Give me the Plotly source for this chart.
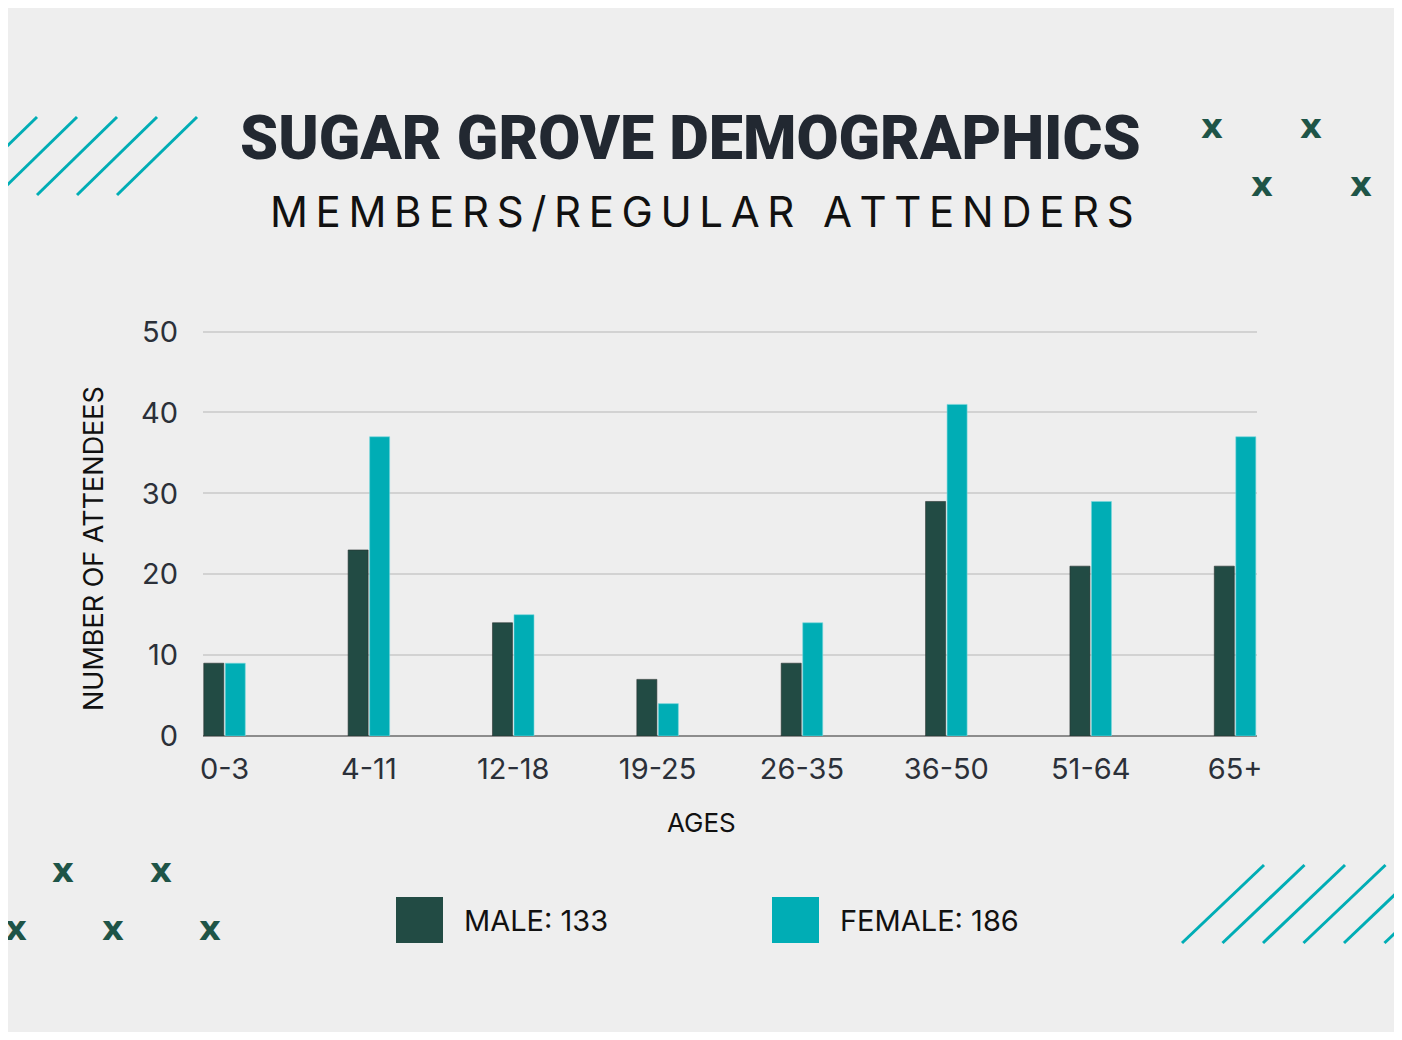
import plotly.graph_objects as go

# ---------------- data ----------------
ages = ["0-3", "4-11", "12-18", "19-25", "26-35", "36-50", "51-64", "65+"]
male = [9, 23, 14, 7, 9, 29, 21, 21]
female = [9, 37, 15, 4, 14, 41, 29, 37]
y_ticks = [0, 10, 20, 30, 40, 50]
title_text = "SUGAR GROVE DEMOGRAPHICS"
subtitle_text = "MEMBERS/REGULAR ATTENDERS"
x_title = "AGES"
y_title = "NUMBER OF ATTENDEES"
series_names = ["MALE", "FEMALE"]

# ---------------- style ----------------
MALE_C = "#224b44"
FEMALE_C = "#00adb5"
BG = "#eeeeee"
TEAL_LINE = "#00adb5"
X_C = "#1e5447"
TXT = "#2b3039"

W, H = 1386, 1024


def px(x):
    return x / W


def py(y):
    return 1 - y / H


fig = go.Figure()
fig.add_trace(go.Bar(x=ages, y=male, name=series_names[0],
                     marker=dict(color=MALE_C, line=dict(color="rgba(40,50,48,0.6)", width=1))))
fig.add_trace(go.Bar(x=ages, y=female, name=series_names[1],
                     marker=dict(color=FEMALE_C, line=dict(color="rgba(120,215,220,0.6)", width=1))))

# spaced subtitle (letter spacing emulation)
words = subtitle_text.split(" ")
sub_spaced = "\u2002\u2009".join("\u2009".join(list(w)) for w in words)

annotations = [
    dict(text=title_text, x=px(682), y=py(130), xref="paper", yref="paper",
         showarrow=False, xanchor="center", yanchor="middle",
         font=dict(family="Roboto, Inter, sans-serif", size=61, weight=900, color="#222831")),
    dict(text=sub_spaced, x=px(694), y=py(203), xref="paper", yref="paper",
         showarrow=False, xanchor="center", yanchor="middle",
         font=dict(family="Inter, Roboto, sans-serif", size=42, color="#111111")),
    dict(text=x_title, x=px(693), y=py(814), xref="paper", yref="paper",
         showarrow=False, xanchor="center", yanchor="middle",
         font=dict(family="Inter, Roboto, sans-serif", size=26, color="#111111")),
    dict(text=y_title, x=px(85), y=py(541), xref="paper", yref="paper", textangle=-90,
         showarrow=False, xanchor="center", yanchor="middle",
         font=dict(family="Inter, Roboto, sans-serif", size=27, color="#111111")),
]

# legend (custom)
legend_items = [
    (388, f"{series_names[0]}: {sum(male)}", MALE_C),
    (764, f"{series_names[1]}: {sum(female)}", FEMALE_C),
]
shapes = []
for lx, label, col in legend_items:
    shapes.append(dict(type="rect", xref="paper", yref="paper",
                       x0=px(lx), x1=px(lx + 47), y0=py(889), y1=py(935),
                       fillcolor=col, line=dict(width=0)))
    annotations.append(dict(text=label, x=px(lx + 66), y=py(912), xref="paper", yref="paper",
                            showarrow=False, xanchor="left", yanchor="middle",
                            font=dict(family="Inter, Roboto, sans-serif", size=29, color="#111111")))

# decorative diagonal lines
for i in range(5):
    shapes.append(dict(type="line", xref="paper", yref="paper",
                       x0=px(29 + 40 * i), y0=py(109), x1=px(-51 + 40 * i), y1=py(187),
                       line=dict(color=TEAL_LINE, width=3)))
for i in range(6):
    shapes.append(dict(type="line", xref="paper", yref="paper",
                       x0=px(1174 + 40.5 * i), y0=py(935), x1=px(1256 + 40.5 * i), y1=py(857),
                       line=dict(color=TEAL_LINE, width=3)))

# decorative x marks
x_marks = [(1212, 128), (1311, 128), (1262, 186), (1361, 186),
           (63, 872), (161, 872), (16, 930), (113, 930), (210, 930)]
for mx, my in x_marks:
    annotations.append(dict(text="<b>x</b>", x=px(mx - 8), y=py(my - 8 - 2), xref="paper", yref="paper",
                            showarrow=False, xanchor="center", yanchor="middle",
                            font=dict(family="DejaVu Sans, sans-serif", size=34, color=X_C)))

fig.update_layout(
    width=W, height=H,
    margin=dict(l=0, r=0, t=0, b=0, pad=0),
    paper_bgcolor=BG, plot_bgcolor=BG,
    barmode="group", bargap=0.702, bargroupgap=0.07,
    showlegend=False,
    shapes=shapes, annotations=annotations,
    xaxis=dict(domain=[px(195), px(1249)], range=[-0.149, 7.152], type="category",
               showgrid=False, zeroline=False, showline=False, ticks="",
               ticklabelstandoff=13, automargin=False,
               tickfont=dict(family="Inter, Roboto, sans-serif", size=29, color=TXT)),
    yaxis=dict(domain=[py(728), py(322)], range=[0, 50.2], tickvals=y_ticks,
               showgrid=True, gridcolor="#d2d2d2", gridwidth=1.5,
               zeroline=True, zerolinecolor="#8c8c8c", zerolinewidth=1.5,
               showline=False, ticks="", ticklabelstandoff=24, automargin=False,
               tickfont=dict(family="Inter, Roboto, sans-serif", size=29, color=TXT)),
)

fig.write_html("out.html")
